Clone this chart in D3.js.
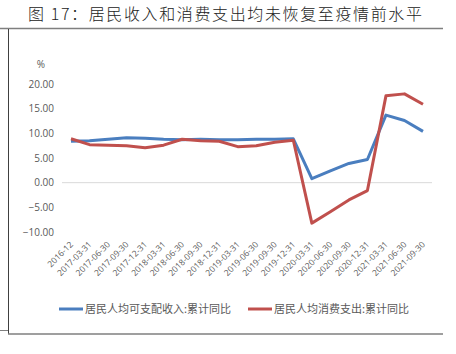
<!DOCTYPE html>
<html>
<head>
<meta charset="utf-8">
<script src="https://cdn.jsdelivr.net/npm/d3@7"></script>
<style>
  body { margin: 0; background: #fff; }
  svg { display: block; }
</style>
</head>
<body>
<svg id="chart"></svg>
<script>
// chart data
const dates = ["2016-12", "2017-03-31", "2017-06-30", "2017-09-30", "2017-12-31",
  "2018-03-31", "2018-06-30", "2018-09-30", "2018-12-31", "2019-03-31",
  "2019-06-30", "2019-09-30", "2019-12-31", "2020-03-31", "2020-06-30",
  "2020-09-30", "2020-12-31", "2021-03-31", "2021-06-30", "2021-09-30"];
const income = [8.4, 8.5, 8.8, 9.1, 9.0, 8.8, 8.7, 8.8, 8.7, 8.7,
  8.8, 8.8, 8.9, 0.8, 2.4, 3.9, 4.7, 13.7, 12.6, 10.4];
const spending = [8.9, 7.7, 7.6, 7.5, 7.1, 7.6, 8.8, 8.5, 8.4, 7.3,
  7.5, 8.2, 8.6, -8.2, -5.9, -3.5, -1.6, 17.6, 18.0, 15.9];
const yTicks = [20, 15, 10, 5, 0, -5, -10];
const seriesNames = ["居民人均可支配收入:累计同比", "居民人均消费支出:累计同比"];
const titleText = "图 17：居民收入和消费支出均未恢复至疫情前水平";

const width = 456, height = 354;
const colors = ["#4a7ebf", "#c0504d"];

const svg = d3.select('#chart').attr('width', width).attr('height', height);

// frame lines
svg.append('line').attr('x1', 0).attr('x2', 443).attr('y1', 28.5).attr('y2', 28.5)
  .attr('stroke', '#7f7f7f').attr('stroke-width', 1.5);
svg.append('line').attr('x1', 8.5).attr('x2', 8.5).attr('y1', 29).attr('y2', 334)
  .attr('stroke', '#404040').attr('stroke-width', 1);
svg.append('line').attr('x1', 0).attr('x2', 8).attr('y1', 330.5).attr('y2', 330.5)
  .attr('stroke', '#808080').attr('stroke-width', 1);
svg.append('line').attr('x1', 8).attr('x2', 443).attr('y1', 334).attr('y2', 334)
  .attr('stroke', '#7f7f7f').attr('stroke-width', 1.5);

// title
svg.append('text').attr('x', 28).attr('y', 20)
  .attr('font-family', 'Noto Sans CJK SC').attr('font-size', 16).attr('font-weight', 300)
  .attr('textLength', 394).attr('lengthAdjust', 'spacing')
  .attr('fill', '#222').text(titleText);

// scales
const x = d3.scalePoint().domain(dates).range([71, 423]);
const y = d3.scaleLinear().domain([-10, 20]).range([232, 84]);

// y axis labels
const yAxis = svg.append('g').attr('transform', 'translate(54,0)')
  .call(d3.axisLeft(y).tickValues(yTicks).tickSize(0).tickPadding(0).tickFormat(d3.format('.2f')));
yAxis.select('.domain').remove();
yAxis.selectAll('text').attr('font-family', 'Open Sans').attr('font-size', 10).attr('fill', '#595959');

svg.append('text').attr('x', 41).attr('y', 68).attr('text-anchor', 'middle')
  .attr('font-family', 'Open Sans').attr('font-size', 10).attr('fill', '#595959').text('%');

// zero line
svg.append('line').attr('x1', 62).attr('x2', 432).attr('y1', y(0)).attr('y2', y(0))
  .attr('stroke', '#d9d9d9').attr('stroke-width', 1);

// x axis labels
const xAxis = svg.append('g').attr('transform', 'translate(0,243)')
  .call(d3.axisBottom(x).tickSize(0).tickPadding(0));
xAxis.select('.domain').remove();
xAxis.selectAll('text')
  .attr('font-family', 'Open Sans').attr('font-size', 8.5).attr('fill', '#595959')
  .attr('text-anchor', 'end').attr('dy', '0.35em')
  .attr('transform', 'rotate(-45)');

// lines
const line = d3.line().x((d, i) => x(dates[i])).y(d => y(d));
[income, spending].forEach((s, k) => {
  svg.append('path').datum(s).attr('d', line)
    .attr('fill', 'none').attr('stroke', colors[k]).attr('stroke-width', 3)
    .attr('stroke-linejoin', 'round');
});

// legend
const legendX = [59, 248];
seriesNames.forEach((name, k) => {
  const g = svg.append('g').attr('transform', 'translate(' + legendX[k] + ',309)');
  g.append('line').attr('x1', 0).attr('x2', 24).attr('y1', 0).attr('y2', 0)
    .attr('stroke', colors[k]).attr('stroke-width', 3);
  g.append('text').attr('x', 26).attr('y', 4).attr('font-family', 'Noto Sans CJK SC')
    .attr('font-size', 11).attr('fill', '#595959').text(name);
});
</script>
</body>
</html>
